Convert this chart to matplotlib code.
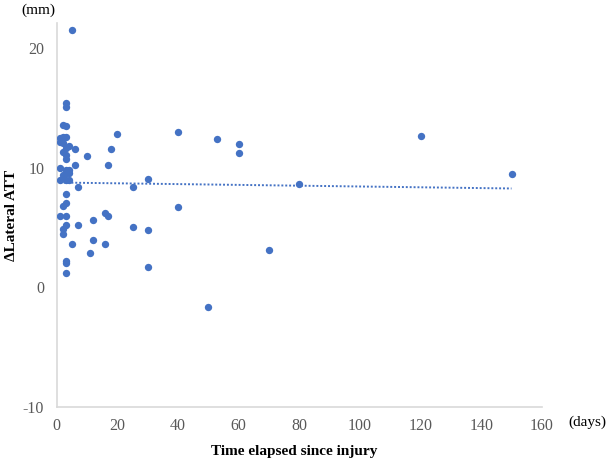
import numpy as np
from matplotlib import pyplot as plt

# days since injury / change in lateral ATT (mm)
days = [5, 3, 3, 2, 3, 1, 2, 3, 1, 2, 20, 40, 53, 4, 3, 6, 18, 2, 3, 10,
        3, 6, 17, 1, 3, 4, 3, 4, 2, 30, 1, 3, 4, 7, 25, 3, 3, 2, 40, 16,
        17, 1, 3, 12, 3, 7, 25, 2, 2, 30, 12, 5, 16, 11, 3, 3, 3, 30, 50, 60,
        60, 80, 70, 120, 150]
att = [21.5, 15.4, 15.1, 13.55, 13.5, 12.5, 12.6, 12.6, 12.2, 12.1, 12.85, 12.96, 12.4, 11.8, 11.66, 11.58, 11.58, 11.3, 11.1, 10.96,
       10.7, 10.27, 10.27, 9.99, 9.85, 9.85, 9.57, 9.57, 9.43, 9.07, 8.96, 9.0, 9.0, 8.4, 8.4, 7.8, 7.07, 6.84, 6.7, 6.23,
       6.0, 5.95, 5.95, 5.6, 5.26, 5.26, 5.09, 4.9, 4.48, 4.78, 4.0, 3.65, 3.65, 2.9, 2.25, 2.0, 1.22, 1.73, -1.6, 11.96,
       11.24, 8.66, 3.17, 12.63, 9.46]
xticks = [0, 20, 40, 60, 80, 100, 120, 140, 160]
yticks = [-10, 0, 10, 20]

blue = '#4472C4'
grey = '#595959'
plt.rcParams['font.family'] = ['Liberation Serif', 'DejaVu Serif']
plt.rcParams['axes.unicode_minus'] = False

fig = plt.figure(figsize=(6.11, 4.62), dpi=100)
ax = fig.add_axes([0.0928, 0.119, 0.794, 0.831])

ax.scatter(days, att, s=28, color=blue, zorder=3, linewidths=0)

# linear trendline
k, b = np.polyfit(days, att, 1)
tx = np.array([min(days), max(days)])
ax.plot(tx, k * tx + b, color=blue, linestyle=(0, (1, 1)), linewidth=1.4, zorder=2)

ax.set_xlim(0, 160)
ax.set_ylim(-10, 22.1)
ax.set_xticks(xticks)
ax.set_yticks(yticks)
ax.tick_params(axis='x', length=0, pad=8, labelsize=11.5, labelcolor=grey)
ax.tick_params(axis='y', length=0, pad=9, labelsize=11.5, labelcolor=grey)
for s in ['top', 'right']:
    ax.spines[s].set_visible(False)
for s in ['left', 'bottom']:
    ax.spines[s].set_color('#D9D9D9')
    ax.spines[s].set_linewidth(1.2)

ax.set_xlabel('Time elapsed since injury', fontsize=11, fontweight='bold')
ax.xaxis.set_label_coords(0.49, -0.1)
ax.set_ylabel('ΔLateral ATT', fontsize=11, fontweight='bold')
ax.yaxis.set_label_coords(-0.08, 0.5)
fig.text(0.062, 0.978, '(mm)', fontsize=11, ha='center', va='center')
fig.text(0.961, 0.085, '(days)', fontsize=11, ha='center', va='center')

plt.savefig('out.png', dpi=100)
